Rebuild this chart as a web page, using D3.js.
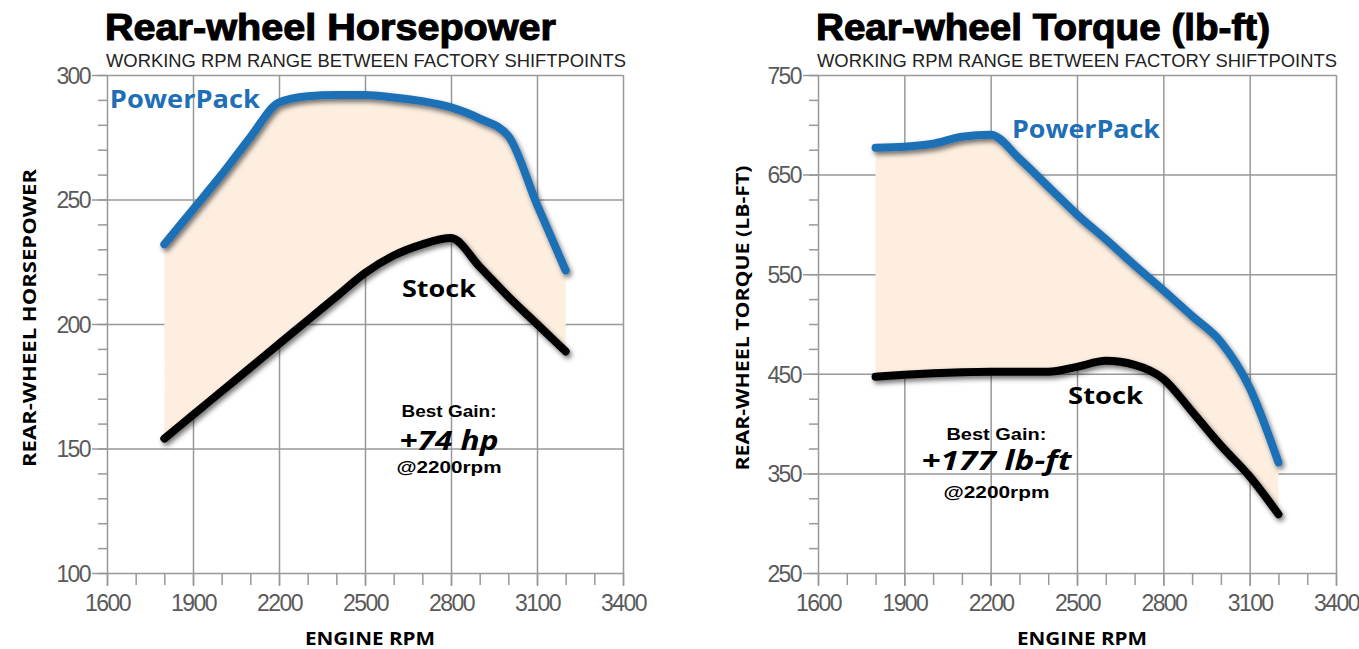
<!DOCTYPE html>
<html>
<head>
<meta charset="utf-8">
<script src="https://cdn.jsdelivr.net/npm/d3@7"></script>
<style>
  body { margin: 0; background: #fff; }
  svg { display: block; }
</style>
</head>
<body>
<script>
// Data ////////////////////////////////////////////////////////////////////

const rpm = [1800, 1900, 2000, 2100, 2200, 2300, 2400, 2500, 2600, 2700, 2800, 2900, 3000, 3100, 3200];

const hpPowerPack = [232, 246, 260, 275, 289, 291.5, 292, 292, 291, 289.5, 287, 282.5, 275.5, 248, 221.5];
const hpStock = [154, 163.5, 173, 182.5, 192, 201.5, 211, 220.5, 227.5, 232, 234.5, 223, 211, 200, 189];

const tqPowerPack = [677, 678, 681, 688, 690, 666, 638, 610, 585, 559, 534, 508, 482, 436, 361];
const tqStock = [447, 449, 450.5, 451.5, 452, 452, 452, 457, 463, 459, 445, 412, 378, 347, 309];

const rpmTicks = [1600, 1900, 2200, 2500, 2800, 3100, 3400];
const rpmMinorTicks = d3.range(1600, 3401, 100);
const hpTicks = [100, 150, 200, 250, 300];
const hpMinorTicks = d3.range(100, 301, 10);
const tqTicks = [250, 350, 450, 550, 650, 750];
const tqMinorTicks = d3.range(250, 751, 25);

const subtitle = "WORKING RPM RANGE BETWEEN FACTORY SHIFTPOINTS";

// Layout //////////////////////////////////////////////////////////////////

const width = 1359;
const height = 649;
const plotTop = 75;
const plotBottom = 573;
const blue = "#1f6fb6";
const gridColor = "#999";
const fillColor = "#fdeee0";
const narrow = "'Liberation Sans Narrow', 'Liberation Sans', Arial, sans-serif";
const bold = "'Open Sans', 'DejaVu Sans', sans-serif";

const svg = d3
  .select("body")
  .append("svg")
  .attr("width", width)
  .attr("height", height);

svg.append("rect").attr("width", width).attr("height", height).attr("fill", "#fff");

svg
  .append("defs")
  .append("filter")
  .attr("id", "shadow")
  .attr("x", "-20%")
  .attr("y", "-20%")
  .attr("width", "140%")
  .attr("height", "140%")
  .append("feDropShadow")
  .attr("dx", 2)
  .attr("dy", 3)
  .attr("stdDeviation", 2.5)
  .attr("flood-color", "#000")
  .attr("flood-opacity", 0.55);

drawPanel({
  left: 107,
  right: 623,
  yDomain: [100, 300],
  yTicks: hpTicks,
  yMinor: hpMinorTicks,
  powerPack: hpPowerPack,
  stock: hpStock,
  title: "Rear-wheel Horsepower",
  titleWidth: 451,
  yTitle: "REAR-WHEEL HORSEPOWER",
  yTitleX: 36,
  yTitleLength: 298,
  ppLabel: { rpm: 1610, v: 286.7, w: 150 },
  stockLabel: { rpm: 2629, v: 210.8, w: 74 },
  gain: { rpm: 2793, v: [162.5, 149.4, 140.2], text: "+74 hp", w: [95, 99, 105] },
});

drawPanel({
  left: 818,
  right: 1336,
  yDomain: [250, 750],
  yTicks: tqTicks,
  yMinor: tqMinorTicks,
  powerPack: tqPowerPack,
  stock: tqStock,
  title: "Rear-wheel Torque (lb-ft)",
  titleWidth: 454,
  yTitle: "REAR-WHEEL TORQUE (LB-FT)",
  yTitleX: 749,
  yTitleLength: 305,
  ppLabel: { rpm: 2274, v: 686.7, w: 148 },
  stockLabel: { rpm: 2469, v: 419.7, w: 75 },
  gain: { rpm: 2220, v: [384, 353.4, 325.3], text: "+177 lb-ft", w: [100, 150, 106] },
});

// Panel ///////////////////////////////////////////////////////////////////

function drawPanel(p) {
  const x = d3.scaleLinear().domain([1600, 3400]).range([p.left, p.right]);
  const y = d3.scaleLinear().domain(p.yDomain).range([plotBottom, plotTop]);
  const root = svg.append("g");

  drawTitles(root, p);
  drawGrid(root, x, y, p);
  drawCurves(root, x, y, p);
  drawLabels(root, x, y, p);
}

function drawTitles(root, p) {
  root
    .append("text")
    .text(p.title)
    .attr("x", p.left - 2)
    .attr("y", 40)
    .attr("font-family", narrow)
    .attr("font-weight", "bold")
    .attr("font-size", 37)
    .attr("stroke", "#000")
    .attr("stroke-width", 1.1)
    .attr("textLength", p.titleWidth)
    .attr("lengthAdjust", "spacingAndGlyphs");

  root
    .append("text")
    .text(subtitle)
    .attr("x", p.left - 1)
    .attr("y", 67)
    .attr("fill", "#222")
    .attr("font-family", narrow)
    .attr("font-size", 19)
    .attr("textLength", 520)
    .attr("lengthAdjust", "spacingAndGlyphs");

  root
    .append("text")
    .text(p.yTitle)
    .attr("transform", `translate(${p.yTitleX}, ${(plotTop + plotBottom) / 2 - 6}) rotate(-90)`)
    .attr("text-anchor", "middle")
    .attr("font-family", bold)
    .attr("font-weight", "bold")
    .attr("font-size", 17)
    .attr("textLength", p.yTitleLength)
    .attr("lengthAdjust", "spacingAndGlyphs");

  root
    .append("text")
    .text("ENGINE RPM")
    .attr("x", (p.left + p.right) / 2 + 5)
    .attr("y", 645)
    .attr("text-anchor", "middle")
    .attr("font-family", bold)
    .attr("font-weight", "bold")
    .attr("font-size", 17)
    .attr("textLength", 130)
    .attr("lengthAdjust", "spacingAndGlyphs");
}

function drawGrid(root, x, y, p) {
  const tickStyle = (g) => {
    g.select(".domain").remove();
    g.selectAll("line").attr("stroke", gridColor).attr("stroke-width", 1.5);
    g.selectAll("text")
      .attr("fill", "#5a5a5a")
      .attr("font-family", "'Liberation Sans', Arial, sans-serif")
      .attr("font-size", 23)
      .attr("letter-spacing", -1.6);
  };

  // minor ticks under the grid
  root
    .append("g")
    .attr("transform", `translate(0, ${plotBottom})`)
    .call(d3.axisBottom(x).tickValues(rpmMinorTicks).tickSize(12).tickFormat(""))
    .call(tickStyle);

  root
    .append("g")
    .attr("transform", `translate(${p.left}, 0)`)
    .call(d3.axisLeft(y).tickValues(p.yMinor).tickSize(9).tickFormat(""))
    .call(tickStyle);

  // major grid lines, running past the axes as ticks
  root
    .append("g")
    .attr("transform", `translate(0, ${plotBottom + 13})`)
    .call(
      d3
        .axisBottom(x)
        .tickValues(rpmTicks)
        .tickSize(-(plotBottom + 13 - plotTop))
        .tickPadding(9)
        .tickFormat(d3.format("d"))
    )
    .call(tickStyle);

  root
    .append("g")
    .attr("transform", `translate(${p.left - 15}, 0)`)
    .call(
      d3
        .axisLeft(y)
        .tickValues(p.yTicks)
        .tickSize(-(p.right - p.left + 15))
        .tickPadding(2)
        .tickFormat(d3.format("d"))
    )
    .call(tickStyle)
    .call((g) => g.selectAll("text").attr("dy", "0.36em"));
}

function drawCurves(root, x, y, p) {
  const rows = rpm.map((r, i) => ({ rpm: r, pp: p.powerPack[i], stock: p.stock[i] }));

  const area = d3
    .area()
    .x((d) => x(d.rpm))
    .y0((d) => y(d.stock))
    .y1((d) => y(d.pp))
    .curve(d3.curveMonotoneX);

  root.append("path").datum(rows).attr("d", area).attr("fill", fillColor);

  const line = (key) =>
    d3
      .line()
      .x((d) => x(d.rpm))
      .y((d) => y(d[key]))
      .curve(d3.curveMonotoneX);

  [
    ["stock", "#000"],
    ["pp", blue],
  ].forEach(([key, color]) => {
    root
      .append("path")
      .datum(rows)
      .attr("d", line(key))
      .attr("fill", "none")
      .attr("stroke", color)
      .attr("stroke-width", 8)
      .attr("stroke-linecap", "round")
      .attr("stroke-linejoin", "round")
      .attr("filter", "url(#shadow)");
  });
}

function drawLabels(root, x, y, p) {
  const label = (txt, px, py, size, w, opts = {}) =>
    root
      .append("text")
      .text(txt)
      .attr("x", px)
      .attr("y", py)
      .attr("fill", opts.fill || "#000")
      .attr("text-anchor", opts.anchor || "start")
      .attr("font-family", opts.family || bold)
      .attr("font-weight", "bold")
      .attr("font-style", opts.italic ? "italic" : "normal")
      .attr("font-size", size)
      .attr("textLength", w)
      .attr("lengthAdjust", "spacingAndGlyphs");

  label("PowerPack", x(p.ppLabel.rpm), y(p.ppLabel.v), 25, p.ppLabel.w, { fill: blue });
  label("Stock", x(p.stockLabel.rpm), y(p.stockLabel.v), 24, p.stockLabel.w);

  const cx = x(p.gain.rpm);
  label("Best Gain:", cx, y(p.gain.v[0]), 17, p.gain.w[0], { anchor: "middle", family: narrow });
  label(p.gain.text, cx, y(p.gain.v[1]), 26, p.gain.w[1], { anchor: "middle", italic: true });
  label("@2200rpm", cx, y(p.gain.v[2]), 17, p.gain.w[2], { anchor: "middle", family: narrow });
}
</script>
</body>
</html>
